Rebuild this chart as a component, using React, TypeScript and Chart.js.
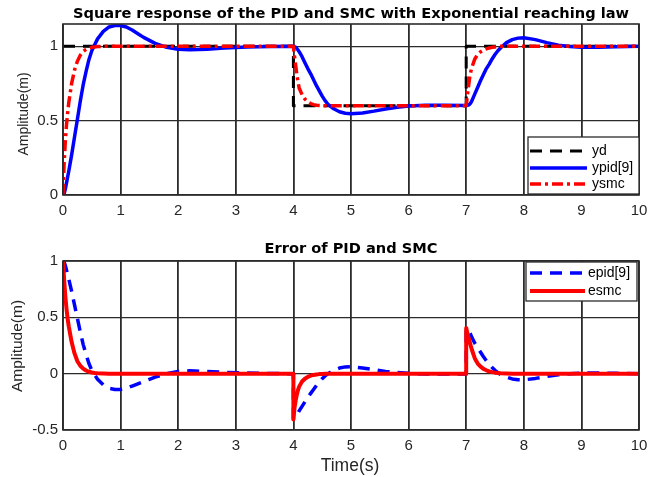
import React, { useEffect, useRef } from "react";
import { Chart, registerables } from "chart.js";

Chart.register(...registerables);

// ---------- data ----------
const time = [
  0, 0.02, 0.04, 0.06, 0.08, 0.1, 0.15, 0.2, 0.25, 0.3, 0.35, 0.4, 0.45, 0.5, 0.55, 0.6,
  0.7, 0.8, 0.9, 1.0, 1.1, 1.2, 1.3, 1.4, 1.5, 1.6, 1.8, 2.0, 2.2, 2.5, 2.8, 3.2, 3.6, 4.0,
  4.0, 4.02, 4.04, 4.06, 4.08, 4.1, 4.15, 4.2, 4.25, 4.3, 4.35, 4.4, 4.45, 4.5, 4.55, 4.6,
  4.7, 4.8, 4.9, 5.0, 5.2, 5.4, 5.6, 5.8, 6.0, 6.3, 6.6, 7.0,
  7.0, 7.02, 7.04, 7.06, 7.08, 7.1, 7.15, 7.2, 7.25, 7.3, 7.35, 7.4, 7.45, 7.5, 7.55, 7.6,
  7.7, 7.8, 7.9, 8.0, 8.2, 8.4, 8.6, 8.8, 9.0, 9.3, 9.6, 10,
];

const ydTime = [0, 4, 4, 7, 7, 10];
const yd = [1, 1, 0.6, 0.6, 1, 1];

const ypid = [
  0, 0.01, 0.04, 0.08, 0.12, 0.16, 0.27, 0.39, 0.51, 0.63, 0.74, 0.83, 0.91, 0.97, 1.01, 1.05,
  1.10, 1.13, 1.14, 1.14, 1.13, 1.11, 1.085, 1.06, 1.04, 1.02, 0.993, 0.98, 0.977, 0.981, 0.988, 0.995, 0.999, 1.0,
  1.0, 0.998, 0.993, 0.985, 0.975, 0.964, 0.93, 0.89, 0.85, 0.815, 0.775, 0.735, 0.70, 0.665, 0.635, 0.61,
  0.58, 0.56, 0.55, 0.547, 0.552, 0.564, 0.578, 0.59, 0.598, 0.604, 0.604, 0.602,
  0.602, 0.603, 0.605, 0.61, 0.62, 0.635, 0.68, 0.725, 0.77, 0.81, 0.85, 0.88, 0.915, 0.945, 0.97, 0.99,
  1.025, 1.045, 1.055, 1.057, 1.045, 1.025, 1.008, 0.998, 0.994, 0.994, 0.997, 1.0,
];

const ysmc = [
  0, 0.22, 0.36, 0.47, 0.55, 0.62, 0.75, 0.84, 0.9, 0.94, 0.965, 0.98, 0.988, 0.993, 0.996, 0.998,
  1, 1, 1, 1, 1, 1, 1, 1, 1, 1, 1, 1, 1, 1, 1, 1, 1, 1,
  1.0, 0.93, 0.87, 0.81, 0.76, 0.72, 0.675, 0.645, 0.627, 0.615, 0.608, 0.604, 0.602, 0.601, 0.6, 0.6,
  0.6, 0.6, 0.6, 0.6, 0.6, 0.6, 0.6, 0.6, 0.6, 0.6, 0.6, 0.6,
  0.6, 0.67, 0.73, 0.79, 0.83, 0.86, 0.915, 0.945, 0.963, 0.975, 0.983, 0.989, 0.993, 0.996, 0.998, 1,
  1, 1, 1, 1, 1, 1, 1, 1, 1, 1, 1, 1,
];

const epid = [
  1.0, 0.99, 0.96, 0.92, 0.88, 0.84, 0.73, 0.61, 0.49, 0.37, 0.26, 0.17, 0.09, 0.03, -0.01, -0.05,
  -0.10, -0.13, -0.14, -0.14, -0.13, -0.11, -0.09, -0.07, -0.05, -0.03, 0.0, 0.02, 0.025, 0.02, 0.012, 0.005, 0.001, 0,
  -0.4, -0.395, -0.385, -0.37, -0.35, -0.33, -0.29, -0.25, -0.21, -0.175, -0.14, -0.105, -0.075, -0.045, -0.02, 0.0,
  0.03, 0.05, 0.06, 0.062, 0.05, 0.035, 0.02, 0.01, 0.003, -0.003, -0.004, -0.002,
  0.398, 0.395, 0.385, 0.37, 0.345, 0.32, 0.27, 0.23, 0.19, 0.15, 0.115, 0.085, 0.055, 0.03, 0.01, -0.01,
  -0.03, -0.047, -0.054, -0.055, -0.042, -0.025, -0.01, 0.0, 0.005, 0.006, 0.003, 0,
];

const esmc = [
  1.0, 0.83, 0.69, 0.58, 0.49, 0.42, 0.28, 0.18, 0.11, 0.07, 0.045, 0.028, 0.017, 0.01, 0.006, 0.003,
  0.001, 0, 0, 0, 0, 0, 0, 0, 0, 0, 0, 0, 0, 0, 0, 0, 0, 0,
  -0.407, -0.30, -0.235, -0.185, -0.145, -0.115, -0.07, -0.045, -0.028, -0.018, -0.011, -0.007, -0.004, -0.002, -0.001, 0,
  0, 0, 0, 0, 0, 0, 0, 0, 0, 0, 0, 0,
  0.405, 0.36, 0.32, 0.285, 0.245, 0.21, 0.135, 0.09, 0.062, 0.042, 0.03, 0.02, 0.014, 0.009, 0.005, 0.003,
  0.001, 0, 0, 0, 0, 0, 0, 0, 0, 0, 0, 0,
];

const xTicks = [0, 1, 2, 3, 4, 5, 6, 7, 8, 9, 10];
const topYTicks = [0, 0.5, 1];
const bottomYTicks = [-0.5, 0, 0.5, 1];

const topTitle = "Square response of the PID and SMC with Exponential reaching law";
const bottomTitle = "Error of PID and SMC";
const yLabel = "Amplitude(m)";
const xLabel = "Time(s)";

// ---------- helpers ----------
const pts = (xs: number[], ys: number[]) => xs.map((x, i) => ({ x, y: ys[i] }));

const SANS = '"Liberation Sans", Arial, sans-serif';
const GRID = "#2b2b2b";
const TEXT = "#262626";

type Decor = {
  title: string;
  titleY: number;
  yLabelX: number;
  yLabelY: number;
  yLabelSize: number;
  xLabel?: string;
  xLabelX?: number;
  xLabelY?: number;
  legend: {
    anchor: "bottom-right" | "top-right";
    dx: number;
    dy: number;
    w: number;
    h: number;
    rows: number[];
    lineX0: number;
    lineX1: number;
    textX: number;
  };
};

function decorPlugin(d: Decor) {
  return {
    id: "decor",
    afterDraw(chart: any) {
      const { ctx, chartArea: a } = chart;
      ctx.save();
      // axes box
      ctx.strokeStyle = GRID;
      ctx.lineWidth = 1.6;
      ctx.setLineDash([]);
      ctx.strokeRect(a.left, a.top, a.right - a.left, a.bottom - a.top);

      // title
      ctx.fillStyle = "#000";
      ctx.font = 'bold 14.6px "DejaVu Sans", sans-serif';
      ctx.textAlign = "center";
      ctx.textBaseline = "middle";
      ctx.fillText(d.title, (a.left + a.right) / 2, d.titleY);

      // y label
      ctx.save();
      ctx.translate(d.yLabelX, d.yLabelY);
      ctx.rotate(-Math.PI / 2);
      ctx.fillStyle = TEXT;
      ctx.font = `${d.yLabelSize}px ${SANS}`;
      ctx.fillText(yLabel, 0, 0);
      ctx.restore();

      // x label
      if (d.xLabel) {
        ctx.fillStyle = TEXT;
        ctx.font = `17.5px ${SANS}`;
        ctx.fillText(d.xLabel, d.xLabelX, d.xLabelY);
      }

      // legend
      const L = d.legend;
      const left = a.right - L.dx - L.w;
      const top = L.anchor === "bottom-right" ? a.bottom - L.dy - L.h : a.top + L.dy;
      ctx.fillStyle = "#fff";
      ctx.fillRect(left, top, L.w, L.h);
      ctx.strokeStyle = GRID;
      ctx.lineWidth = 1.3;
      ctx.strokeRect(left, top, L.w, L.h);
      chart.data.datasets.forEach((ds: any, i: number) => {
        const y = top + L.rows[i];
        ctx.save();
        ctx.strokeStyle = ds.borderColor;
        ctx.lineWidth = ds.borderWidth;
        ctx.setLineDash(ds.borderDash || []);
        ctx.beginPath();
        ctx.moveTo(left + L.lineX0, y);
        ctx.lineTo(left + L.lineX1, y);
        ctx.stroke();
        ctx.restore();
        ctx.fillStyle = "#000";
        ctx.font = `14px ${SANS}`;
        ctx.textAlign = "left";
        ctx.textBaseline = "middle";
        ctx.fillText(ds.label, left + L.textX, y + 0.5);
      });
      ctx.restore();
    },
  };
}

function makeScales(yMin: number, yMax: number, yTicks: number[], xHeight: number, tickSize: number) {
  return {
    x: {
      type: "linear",
      min: 0,
      max: 10,
      afterBuildTicks: (s: any) => {
        s.ticks = xTicks.map((v) => ({ value: v }));
      },
      afterFit: (s: any) => {
        s.height = xHeight;
      },
      ticks: {
        color: TEXT,
        font: { family: SANS, size: tickSize },
        padding: 7,
        maxRotation: 0,
        autoSkip: false,
        callback: (v: any) => String(v),
      },
      grid: { color: GRID, lineWidth: 1.8, drawTicks: false },
      border: { display: false },
    },
    y: {
      type: "linear",
      min: yMin,
      max: yMax,
      afterBuildTicks: (s: any) => {
        s.ticks = yTicks.map((v) => ({ value: v }));
      },
      afterFit: (s: any) => {
        s.width = 63;
      },
      ticks: {
        color: TEXT,
        font: { family: SANS, size: tickSize },
        padding: 5,
        autoSkip: false,
        callback: (v: any) => String(v),
      },
      grid: { color: GRID, lineWidth: 1.3, drawTicks: false },
      border: { display: false },
    },
  };
}

const lineBase = {
  pointRadius: 0,
  pointHoverRadius: 0,
  tension: 0,
  fill: false,
  borderJoinStyle: "round",
  borderCapStyle: "butt",
};

export default function App() {
  const topRef = useRef<HTMLCanvasElement>(null);
  const botRef = useRef<HTMLCanvasElement>(null);

  useEffect(() => {
    const top = new Chart(topRef.current as HTMLCanvasElement, {
      type: "line",
      data: {
        datasets: [
          { ...lineBase, label: "yd", data: pts(ydTime, yd), borderColor: "#000000", borderWidth: 3, borderDash: [12, 8], order: 3 },
          { ...lineBase, label: "ypid[9]", data: pts(time, ypid), borderColor: "#0000ff", borderWidth: 3.5, borderDash: [], order: 2 },
          { ...lineBase, label: "ysmc", data: pts(time, ysmc), borderColor: "#ff0000", borderWidth: 3.5, borderDash: [11, 4, 3, 4], order: 1 },
        ],
      },
      options: {
        responsive: false,
        animation: false,
        devicePixelRatio: 1,
        layout: { padding: { top: 24, right: 20, bottom: 0, left: 0 } },
        scales: makeScales(0, 1.15, topYTicks, 35, 15) as any,
        plugins: { legend: { display: false }, tooltip: { enabled: false }, title: { display: false } },
        events: [],
      } as any,
      plugins: [
        decorPlugin({
          title: topTitle,
          titleY: 14,
          yLabelX: 24,
          yLabelY: 114,
          yLabelSize: 14,
          legend: { anchor: "bottom-right", dx: 0, dy: 1, w: 111, h: 57, rows: [14, 31, 47], lineX0: 2, lineX1: 59, textX: 64 },
        }) as any,
      ],
    } as any);

    const bottom = new Chart(botRef.current as HTMLCanvasElement, {
      type: "line",
      data: {
        datasets: [
          { ...lineBase, label: "epid[9]", data: pts(time, epid), borderColor: "#0000ff", borderWidth: 3.5, borderDash: [12, 8], order: 2 },
          { ...lineBase, label: "esmc", data: pts(time, esmc), borderColor: "#ff0000", borderWidth: 4, borderDash: [], order: 1 },
        ],
      },
      options: {
        responsive: false,
        animation: false,
        devicePixelRatio: 1,
        layout: { padding: { top: 31, right: 20, bottom: 0, left: 0 } },
        scales: makeScales(-0.5, 1, bottomYTicks, 47, 15) as any,
        plugins: { legend: { display: false }, tooltip: { enabled: false }, title: { display: false } },
        events: [],
      } as any,
      plugins: [
        decorPlugin({
          title: bottomTitle,
          titleY: 19,
          yLabelX: 18,
          yLabelY: 116,
          yLabelSize: 15.5,
          xLabel: xLabel,
          xLabelX: 350,
          xLabelY: 236,
          legend: { anchor: "top-right", dx: 2, dy: 1, w: 111, h: 39, rows: [11, 29], lineX0: 4, lineX1: 59, textX: 62 },
        }) as any,
      ],
    } as any);

    return () => {
      top.destroy();
      bottom.destroy();
    };
  }, []);

  return (
    <div style={{ position: "fixed", left: 0, top: 0, width: 659, height: 477, background: "#fff" }}>
      <canvas ref={topRef} width={659} height={230} style={{ position: "absolute", left: 0, top: 0, width: 659, height: 230 }} />
      <canvas ref={botRef} width={659} height={247} style={{ position: "absolute", left: 0, top: 230, width: 659, height: 247 }} />
    </div>
  );
}
